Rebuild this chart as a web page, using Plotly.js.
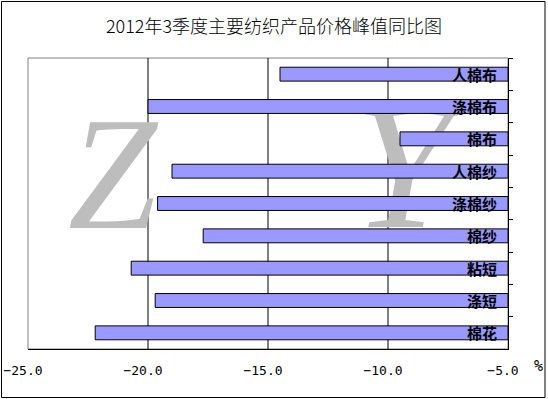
<!DOCTYPE html>
<html>
<head>
<meta charset="utf-8">
<script src="https://cdn.plot.ly/plotly-3.0.1.min.js"></script>
<style>
  html, body { margin: 0; padding: 0; background: #ffffff; }
  #chart { width: 548px; height: 399px; }
</style>
</head>
<body>
<div id="chart"></div>
<script>
// ---- data ----
const titleText = "2012年3季度主要纺织产品价格峰值同比图";
const categories = ["人棉布", "涤棉布", "棉布", "人棉纱", "涤棉纱", "棉纱", "粘短", "涤短", "棉花"];
const values = [-14.5, -20.0, -9.5, -19.0, -19.6, -17.7, -20.7, -19.7, -22.2];
const xTickVals = [-25, -20, -15, -10, -5];
const unitLabel = "%";
const watermarkLetters = ["Z", "Y"];

const baseVal = -5;

// watermark (real text) on the underlying subplot, bars on the overlay above it
const watermark = {
  type: "scatter",
  mode: "text",
  x: [0.176, 0.779],
  y: [0.555, 0.575],
  text: watermarkLetters,
  textposition: "middle center",
  textfont: { family: "Liberation Serif", size: [160, 180], color: "#bdbdbd", style: "italic" },
  xaxis: "x",
  yaxis: "y",
  hoverinfo: "skip",
  showlegend: false
};

const bars = {
  type: "bar",
  orientation: "h",
  y: categories,
  x: values.map(v => v - baseVal),
  base: baseVal,
  width: 0.43,
  marker: { color: "#9999ff", line: { color: "#000000", width: 1 } },
  xaxis: "x2",
  yaxis: "y2",
  hoverinfo: "skip",
  showlegend: false
};

const annotations = categories.map(c => ({
  xref: "x2", yref: "y2",
  x: baseVal, y: c,
  xanchor: "right", yanchor: "middle",
  xshift: -9,
  text: "<b>" + c + "</b>",
  showarrow: false,
  font: { family: "Noto Sans CJK SC", size: 15, color: "#000000" }
}));
annotations.push({
  xref: "paper", yref: "paper",
  x: 1.0625, y: -0.058,
  xanchor: "center", yanchor: "middle",
  text: unitLabel, showarrow: false,
  font: { family: "DejaVu Sans Mono", size: 15, color: "#000000" }
});

const gridShapes = xTickVals.slice(1, -1).map(v => ({
  type: "line", xref: "x2", yref: "paper",
  x0: v, x1: v, y0: 0, y1: 1,
  line: { color: "#000000", width: 1 },
  layer: "below"
}));

const layout = {
  width: 548,
  height: 399,
  margin: { l: 28, r: 40, t: 58, b: 50, pad: 0 },
  paper_bgcolor: "#ffffff",
  plot_bgcolor: "#ffffff",
  showlegend: false,
  title: {
    text: titleText,
    x: 0.5, xanchor: "center",
    y: 0.933, yanchor: "middle", yref: "container",
    font: { family: "Noto Sans CJK SC", size: 18, color: "#000000", weight: 300 }
  },
  xaxis: { range: [0, 1], visible: false, fixedrange: true },
  yaxis: { range: [0, 1], visible: false, fixedrange: true },
  xaxis2: {
    overlaying: "x",
    anchor: "y2",
    side: "bottom",
    range: [-25, -5],
    tickvals: xTickVals,
    tickformat: ".1f",
    showgrid: false,
    zeroline: false,
    showline: true,
    linecolor: "#000000",
    linewidth: 1,
    ticks: "",
    ticklabelstandoff: 9,
    ticklabelshift: -5,
    tickfont: { family: "DejaVu Sans Mono", size: 13, color: "#000000" },
    fixedrange: true
  },
  yaxis2: {
    overlaying: "y",
    anchor: "x2",
    side: "right",
    type: "category",
    categoryorder: "array",
    categoryarray: categories,
    range: [categories.length - 0.5, -0.5],
    showticklabels: false,
    showgrid: false,
    zeroline: false,
    showline: true,
    linecolor: "#000000",
    linewidth: 1,
    ticks: "outside",
    tickson: "boundaries",
    ticklen: 4,
    tickcolor: "#000000",
    fixedrange: true
  },
  shapes: [
    { type: "rect", xref: "paper", yref: "paper", x0: 0, x1: 1, y0: 0, y1: 1,
      line: { color: "#808080", width: 1 }, layer: "below" },
    ...gridShapes,
    { type: "rect", xref: "paper", yref: "paper",
      x0: -0.0552, x1: 1.0771, y0: -0.1667, y1: 1.1942,
      line: { color: "#000000", width: 1 }, layer: "above" }
  ],
  annotations: annotations
};

Plotly.newPlot("chart", [watermark, bars], layout, { displayModeBar: false, staticPlot: true });
</script>
</body>
</html>
